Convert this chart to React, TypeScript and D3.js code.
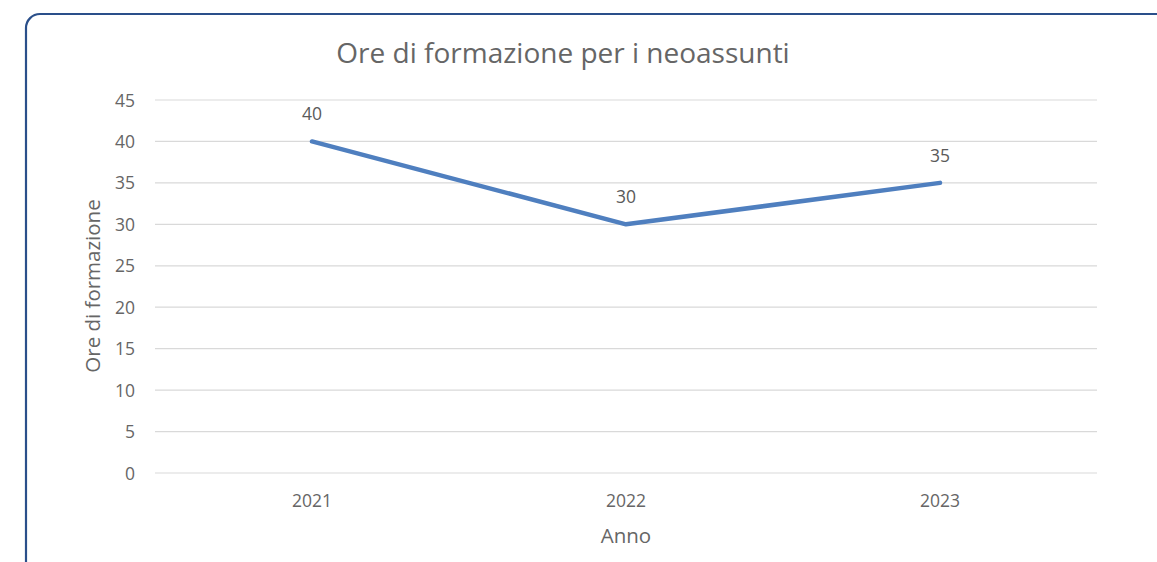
import React from "react";
import * as d3 from "d3";

const years = ["2021", "2022", "2023"];
const hours = [40, 30, 35];
const yTicks = [0, 5, 10, 15, 20, 25, 30, 35, 40, 45];
const title = "Ore di formazione per i neoassunti";
const xTitle = "Anno";
const yTitle = "Ore di formazione";

const W = 1157, H = 562;
const FONT = "'Open Sans', sans-serif";
const TXT = "#666666";

export default function App() {
  const left = 155, right = 1097, top = 100, bottom = 473;
  const x = d3.scaleBand<string>().domain(years).range([left, right]);
  const y = d3.scaleLinear().domain([0, 45]).range([bottom, top]);
  const line = d3.line<number>()
    .x((_, i) => (x(years[i]) as number) + x.bandwidth() / 2)
    .y((d) => y(d));
  return (
    <svg width={W} height={H} style={{ position: "absolute", left: 0, top: 0, background: "#fff" }}>
      <rect x={26} y={14} width={1160} height={600} rx={14} ry={14} fill="#fff" stroke="#2a4f8a" strokeWidth={2.2} />
      <text x={563} y={63} textAnchor="middle" fontFamily={FONT} fontSize={28} fill={TXT}>{title}</text>
      {yTicks.map((t) => (
        <g key={t}>
          <line x1={left} x2={right} y1={y(t)} y2={y(t)} stroke="#d9d9d9" strokeWidth={1.2} />
          <text x={135} y={y(t) + 6.5} textAnchor="end" fontFamily={FONT} fontSize={17.5} fill={TXT}>{t}</text>
        </g>
      ))}
      {years.map((yr) => (
        <text key={yr} x={(x(yr) as number) + x.bandwidth() / 2} y={507} textAnchor="middle" fontFamily={FONT} fontSize={17.5} fill={TXT}>{yr}</text>
      ))}
      <text x={626} y={543} textAnchor="middle" fontFamily={FONT} fontSize={20.5} fill={TXT}>{xTitle}</text>
      <text transform={`translate(100,286) rotate(-90)`} textAnchor="middle" fontFamily={FONT} fontSize={20.5} fill={TXT}>{yTitle}</text>
      <path d={line(hours) || ""} fill="none" stroke="#4f7fbf" strokeWidth={4.5} strokeLinejoin="round" strokeLinecap="round" />
      {hours.map((v, i) => (
        <text key={i} x={(x(years[i]) as number) + x.bandwidth() / 2} y={y(v) - 21} textAnchor="middle" fontFamily={FONT} fontSize={17.5} fill="#5a5a5a">{v}</text>
      ))}
    </svg>
  );
}
